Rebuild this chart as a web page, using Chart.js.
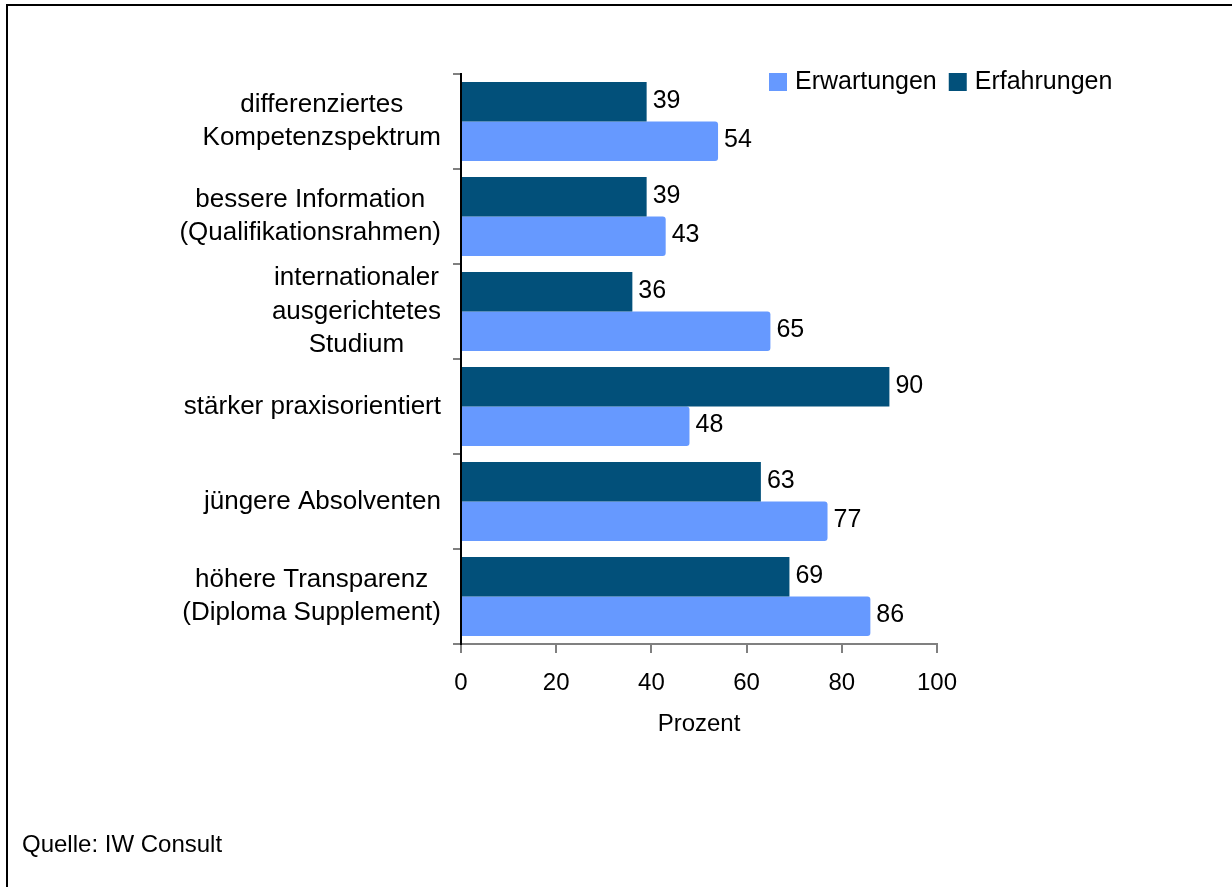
<!DOCTYPE html>
<html>
<head>
<meta charset="utf-8">
<title>Erwartungen und Erfahrungen</title>
<script src="https://cdn.jsdelivr.net/npm/chart.js@4/dist/chart.umd.min.js"></script>
<style>
    body { margin: 0; background: #ffffff; }
    canvas { display: block; }
</style>
</head>
<body>
<canvas id="myChart" width="1232" height="887"></canvas>
<script>
//Datos
var categorias = [
    ['differenziertes', 'Kompetenzspektrum'],
    ['bessere Information', '(Qualifikationsrahmen)'],
    ['internationaler', 'ausgerichtetes', 'Studium'],
    ['stärker praxisorientiert'],
    ['jüngere Absolventen'],
    ['höhere Transparenz', '(Diploma Supplement)']
];
var erfahrungen = [39, 39, 36, 90, 63, 69];
var erwartungen = [54, 43, 65, 48, 77, 86];
var xMin = 0;
var xMax = 100;
var xPaso = 20;
var tituloX = 'Prozent';
var fuente = 'Quelle: IW Consult';

var fontFamily = '"Liberation Sans", Arial, sans-serif';
var colorClaro = '#6699ff';
var colorOscuro = '#02507a';

//Etiquetas del eje y (bloque a la derecha, lineas centradas)
var etiquetasY = {
    id: 'etiquetasY',
    afterDraw: function(chart) {
        var ctx = chart.ctx;
        var yScale = chart.scales.y;
        var lineHeight = 33.5;
        ctx.save();
        ctx.font = '26px ' + fontFamily;
        ctx.fillStyle = '#000000';
        ctx.textAlign = 'center';
        ctx.textBaseline = 'middle';
        categorias.forEach(function(lineas, i) {
            var y = yScale.getPixelForValue(i);
            var ancho = 0;
            lineas.forEach(function(l) {
                ancho = Math.max(ancho, ctx.measureText(l).width);
            });
            var cx = 441 - ancho / 2;
            lineas.forEach(function(l, j) {
                ctx.fillText(l, cx, y + (j - (lineas.length - 1) / 2) * lineHeight);
            });
        });
        ctx.restore();
    }
};

//Valores al final de cada barra
var valores = {
    id: 'valores',
    afterDatasetsDraw: function(chart) {
        var ctx = chart.ctx;
        ctx.save();
        ctx.font = '25px ' + fontFamily;
        ctx.fillStyle = '#000000';
        ctx.textAlign = 'left';
        ctx.textBaseline = 'middle';
        chart.data.datasets.forEach(function(ds, d) {
            chart.getDatasetMeta(d).data.forEach(function(bar, i) {
                ctx.fillText(ds.data[i], bar.x + 6, bar.y - 1);
            });
        });
        ctx.restore();
    }
};

//Leyenda, marco y fuente
var extras = {
    id: 'extras',
    afterDraw: function(chart) {
        var ctx = chart.ctx;
        ctx.save();
        // marco
        ctx.fillStyle = '#000000';
        ctx.fillRect(6, 4, 1226, 2);
        ctx.fillRect(6, 4, 2, 883);

        // leyenda: Erwartungen primero
        ctx.font = '25px ' + fontFamily;
        ctx.textBaseline = 'middle';
        ctx.textAlign = 'left';
        var orden = [1, 0];
        var x = 769;
        var y = 82;
        orden.forEach(function(d) {
            var ds = chart.data.datasets[d];
            ctx.fillStyle = ds.backgroundColor;
            ctx.fillRect(x, y - 9, 18, 18);
            ctx.fillStyle = '#000000';
            ctx.fillText(ds.label, x + 26, y);
            x = x + 26 + ctx.measureText(ds.label).width + 12;
        });

        // fuente
        ctx.font = '24px ' + fontFamily;
        ctx.fillText(fuente, 22, 845);
        ctx.restore();
    }
};

var ctx = document.getElementById('myChart').getContext('2d');

var myChart = new Chart(ctx, {
    type: 'bar',
    data: {
        labels: categorias,
        datasets: [{
            label: 'Erfahrungen',
            data: erfahrungen,
            backgroundColor: colorOscuro,
            borderWidth: 0,
            barPercentage: 1,
            categoryPercentage: 0.83
        }, {
            label: 'Erwartungen',
            data: erwartungen,
            backgroundColor: colorClaro,
            borderWidth: 0,
            borderRadius: 3,
            barPercentage: 1,
            categoryPercentage: 0.83
        }]
    },
    options: {
        indexAxis: 'y',
        responsive: false,
        animation: false,
        devicePixelRatio: 1,
        layout: {
            padding: { left: 0, right: 295, top: 74, bottom: 143 }
        },
        plugins: {
            legend: { display: false },
            tooltip: { enabled: false }
        },
        scales: {
            x: {
                min: xMin,
                max: xMax,
                ticks: {
                    stepSize: xPaso,
                    color: '#000000',
                    padding: 16,
                    font: { family: fontFamily, size: 24 }
                },
                grid: {
                    drawOnChartArea: false,
                    drawTicks: true,
                    tickLength: 9,
                    color: '#808080',
                    lineWidth: 2
                },
                border: { color: '#808080', width: 2 },
                title: {
                    display: true,
                    text: tituloX,
                    color: '#000000',
                    padding: { top: 0, bottom: 5 },
                    font: { family: fontFamily, size: 24 }
                },
                afterFit: function(scale) {
                    scale.height = 100;
                }
            },
            y: {
                ticks: { display: false },
                grid: {
                    drawOnChartArea: false,
                    drawTicks: true,
                    tickLength: 8,
                    color: '#808080',
                    lineWidth: 2
                },
                border: { color: '#000000', width: 2 },
                afterFit: function(scale) {
                    scale.width = 461;
                }
            }
        }
    },
    plugins: [etiquetasY, valores, extras]
});
</script>
</body>
</html>
